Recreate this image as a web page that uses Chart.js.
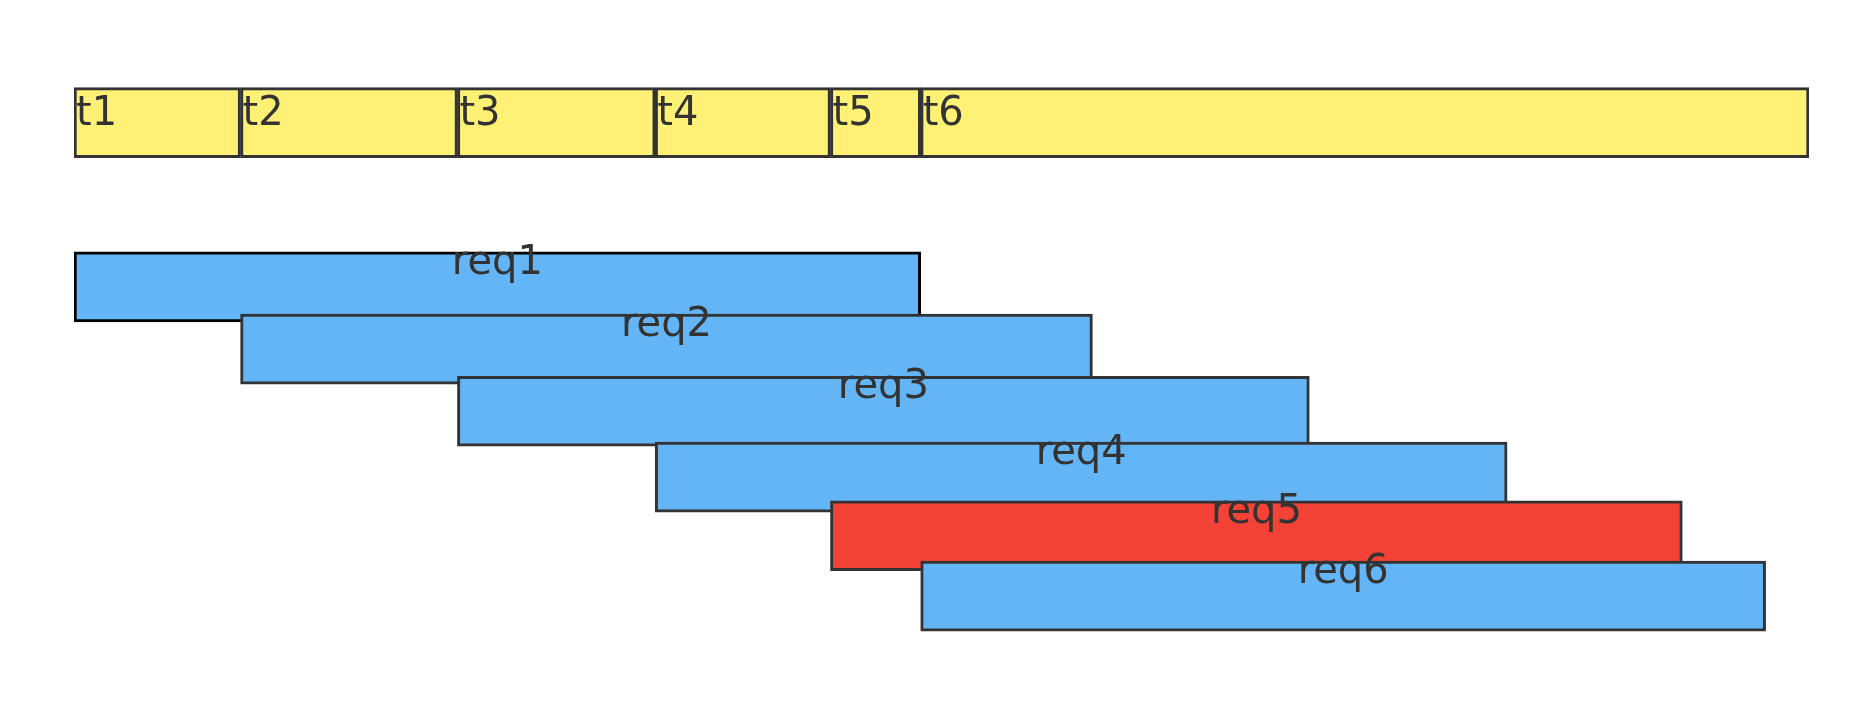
<!DOCTYPE html>
<html>
<head>
  <style>
    html, body { margin: 0; padding: 0; background: #fff; }
    .chart-container { position: relative; width: 1872px; height: 725px; }
  </style>
  <script src="https://cdn.jsdelivr.net/npm/chart.js"></script>
</head>
<body>
  <div class="chart-container">
    <canvas id="reqChart"></canvas>
  </div>
  <script>
    // time marks on the timeline (percent of total span)
    const tickLabels = ['t1', 't2', 't3', 't4', 't5', 't6'];
    const tickTimes = [0, 9.6, 22.1, 33.5, 43.6, 48.8];
    const timelineEnd = 100;

    // requests: start / end times and row positions
    const reqNames = ['req1', 'req2', 'req3', 'req4', 'req5', 'req6'];
    const reqStart = [0, 9.6, 22.1, 33.5, 43.6, 48.8];
    const reqEnd = [48.8, 58.7, 71.2, 82.6, 92.7, 97.5];
    const reqRow = [238, 308, 378, 452, 518, 586];
    const timelineRow = 132;

    document.addEventListener('DOMContentLoaded', function() {
      const ctx = document.getElementById('reqChart').getContext('2d');

      const segments = tickTimes.map((t, i) => ({
        x: [t, i < tickTimes.length - 1 ? tickTimes[i + 1] : timelineEnd],
        y: timelineRow
      }));
      const reqs = reqNames.map((n, i) => ({ x: [reqStart[i], reqEnd[i]], y: reqRow[i] }));

      const labelPlugin = {
        id: 'labels',
        afterDatasetsDraw(chart) {
          const c = chart.ctx;
          const xs = chart.scales.x, ys = chart.scales.y;
          c.save();
          c.fillStyle = '#333';
          c.font = '40px "DejaVu Sans"';
          c.textBaseline = 'alphabetic';
          c.textAlign = 'left';
          const top = ys.getPixelForValue(timelineRow) - 34;
          tickLabels.forEach((l, i) => {
            c.fillText(l, xs.getPixelForValue(tickTimes[i]) + 2, top + 1);
          });
          c.textAlign = 'center';
          reqNames.forEach((n, i) => {
            const cx = (xs.getPixelForValue(reqStart[i]) + xs.getPixelForValue(reqEnd[i])) / 2;
            c.fillText(n, cx, ys.getPixelForValue(reqRow[i]) + 22);
          });
          c.restore();
        }
      };

      new Chart(ctx, {
        type: 'bar',
        data: {
          datasets: [{
            data: segments,
            backgroundColor: '#fff176',
            borderColor: '#333',
            borderWidth: 3,
            borderSkipped: false,
            barThickness: 70
          }, {
            data: reqs,
            backgroundColor: reqNames.map((n, i) => i === 4 ? '#f44336' : '#64b5f6'),
            borderColor: reqNames.map((n, i) => i === 0 ? '#000' : '#333'),
            borderWidth: 3,
            borderSkipped: false,
            barThickness: 70
          }]
        },
        options: {
          indexAxis: 'y',
          responsive: true,
          maintainAspectRatio: false,
          animation: false,
          layout: { padding: { left: 74, right: 63, top: 0, bottom: 0 } },
          scales: {
            x: { type: 'linear', min: 0, max: 100, display: false },
            y: { type: 'linear', min: 0, max: 725, reverse: true, display: false }
          },
          plugins: {
            legend: { display: false },
            tooltip: { enabled: false }
          }
        },
        plugins: [labelPlugin]
      });
    });
  </script>
</body>
</html>
